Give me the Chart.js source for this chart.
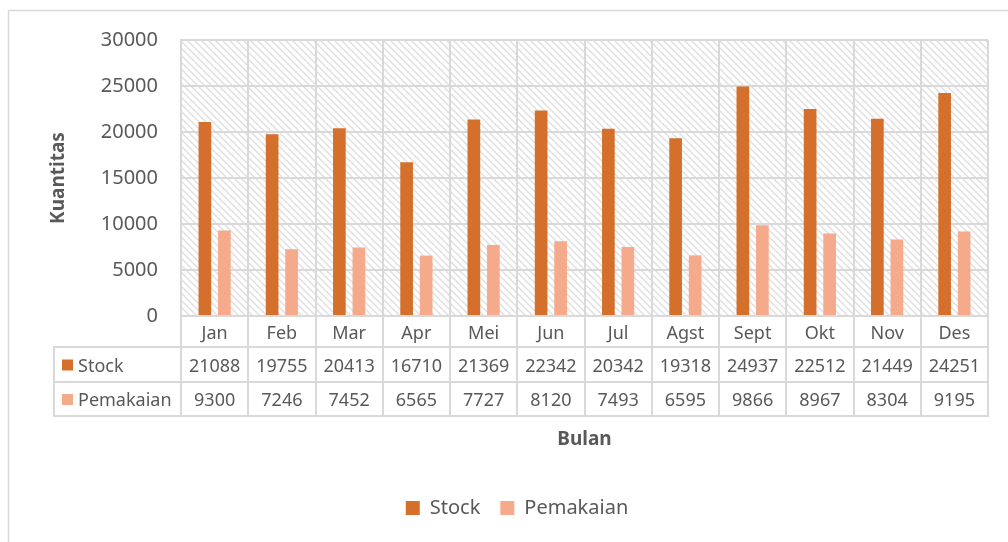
<!DOCTYPE html>
<html>
<head>
<meta charset="utf-8">
<title>Stock dan Pemakaian</title>
<script src="https://cdn.jsdelivr.net/npm/chart.js@4.4.0/dist/chart.umd.min.js"></script>
<style>
  html, body { margin: 0; padding: 0; background: #fff; }
  #wrap { position: relative; width: 1008px; height: 542px; }
</style>
</head>
<body>
<div id="wrap"><canvas id="chart" width="1008" height="542"></canvas></div>
<script>
// data
var months = ["Jan", "Feb", "Mar", "Apr", "Mei", "Jun", "Jul", "Agst", "Sept", "Okt", "Nov", "Des"];
var stock = [21088, 19755, 20413, 16710, 21369, 22342, 20342, 19318, 24937, 22512, 21449, 24251];
var pemakaian = [9300, 7246, 7452, 6565, 7727, 8120, 7493, 6595, 9866, 8967, 8304, 9195];
var yMin = 0, yMax = 30000, yStep = 5000;

var textColor = '#595959';
var lineColor = '#d9d9d9';
var stockColor = '#d4702b';
var pemColor = '#f4aa8b';
var fontFamily = '"Noto Sans", "Open Sans", sans-serif';

// light diagonal hatch for the plot area
function makeHatch() {
    var c = document.createElement('canvas');
    c.width = 7; c.height = 7;
    var g = c.getContext('2d');
    g.fillStyle = '#ffffff';
    g.fillRect(0, 0, 7, 7);
    g.strokeStyle = '#e0e0e0';
    g.lineWidth = 1.5;
    g.beginPath();
    g.moveTo(-1, -1); g.lineTo(8, 8);
    g.moveTo(-8, -1); g.lineTo(1, 8);
    g.moveTo(6, -1); g.lineTo(15, 8);
    g.stroke();
    return c;
}
var hatchCanvas = makeHatch();

var backgroundPlugin = {
    id: 'background',
    beforeDraw: function (chart) {
        var ctx = chart.ctx, a = chart.chartArea;
        ctx.save();
        ctx.fillStyle = '#fff';
        ctx.fillRect(0, 0, chart.width, chart.height);
        // outer chart border
        ctx.strokeStyle = lineColor;
        ctx.lineWidth = 1.5;
        ctx.strokeRect(8.5, 10.5, chart.width + 20, chart.height + 20);
        ctx.fillStyle = ctx.createPattern(hatchCanvas, 'repeat');
        ctx.fillRect(a.left, a.top, a.right - a.left, a.bottom - a.top);
        ctx.restore();
    }
};

// data table under the plot
var tablePlugin = {
    id: 'dataTable',
    afterDraw: function (chart) {
        var ctx = chart.ctx, a = chart.chartArea, xs = chart.scales.x;
        var step = (a.right - a.left) / months.length;
        var r1 = a.bottom + 31, r2 = r1 + 35, r3 = r2 + 34;
        var tableLeft = 54;
        ctx.save();
        ctx.strokeStyle = lineColor;
        ctx.lineWidth = 2;
        ctx.beginPath();
        for (var i = 0; i <= months.length; i++) {
            var px = Math.round(a.left + i * step);
            ctx.moveTo(px, a.bottom);
            ctx.lineTo(px, r3);
        }
        ctx.moveTo(tableLeft, r1);
        ctx.lineTo(tableLeft, r3);
        [r1, r2, r3].forEach(function (y) {
            ctx.moveTo(tableLeft - 1, y);
            ctx.lineTo(a.right + 1, y);
        });
        ctx.stroke();

        var rows = [
            { label: 'Stock', data: stock, color: stockColor, top: r1, bottom: r2 },
            { label: 'Pemakaian', data: pemakaian, color: pemColor, top: r2, bottom: r3 }
        ];
        ctx.font = '18px ' + fontFamily;
        ctx.textBaseline = 'middle';
        rows.forEach(function (row) {
            var cy = (row.top + row.bottom) / 2;
            ctx.fillStyle = row.color;
            ctx.fillRect(62, cy - 5, 11, 11);
            ctx.fillStyle = textColor;
            ctx.textAlign = 'left';
            ctx.fillText(row.label, 78, cy + 2);
            ctx.textAlign = 'center';
            row.data.forEach(function (v, i) {
                ctx.fillText(String(v), xs.getPixelForValue(i), cy + 2);
            });
        });
        ctx.restore();
    }
};

new Chart(document.getElementById('chart'), {
    type: 'bar',
    data: {
        labels: months,
        datasets: [{
            label: 'Stock',
            data: stock,
            backgroundColor: stockColor,
            borderWidth: 0,
            categoryPercentage: 0.58,
            barPercentage: 0.65
        }, {
            label: 'Pemakaian',
            data: pemakaian,
            backgroundColor: pemColor,
            borderWidth: 0,
            categoryPercentage: 0.58,
            barPercentage: 0.65
        }]
    },
    options: {
        responsive: false,
        animation: false,
        devicePixelRatio: 1,
        layout: { padding: { left: 46, top: 40, right: 20, bottom: 14 } },
        plugins: {
            tooltip: { enabled: false },
            legend: {
                position: 'bottom',
                labels: {
                    color: textColor,
                    font: { family: fontFamily, size: 20 },
                    boxWidth: 14,
                    boxHeight: 14,
                    padding: 20
                }
            }
        },
        scales: {
            x: {
                grid: { color: lineColor, lineWidth: 2, offset: true, drawTicks: false },
                border: { color: lineColor, width: 2 },
                ticks: { color: textColor, font: { family: fontFamily, size: 18 }, padding: 7 },
                title: {
                    display: true,
                    text: 'Bulan',
                    color: textColor,
                    font: { family: fontFamily, size: 19, weight: 'bold' },
                    padding: { top: 0, bottom: 27 }
                },
                afterFit: function (scale) { scale.height = 162; }
            },
            y: {
                min: yMin,
                max: yMax,
                grid: { color: lineColor, lineWidth: 2, drawTicks: false },
                border: { color: lineColor, width: 2 },
                ticks: {
                    stepSize: yStep,
                    color: textColor,
                    font: { family: fontFamily, size: 20 },
                    padding: 23,
                    callback: function (v) { return String(v); }
                },
                title: {
                    display: true,
                    text: 'Kuantitas',
                    color: textColor,
                    font: { family: fontFamily, size: 19, weight: 'bold' },
                    padding: { top: 1, bottom: 0 }
                },
                afterFit: function (scale) { scale.width = 135; }
            }
        }
    },
    plugins: [backgroundPlugin, tablePlugin]
});
</script>
</body>
</html>
